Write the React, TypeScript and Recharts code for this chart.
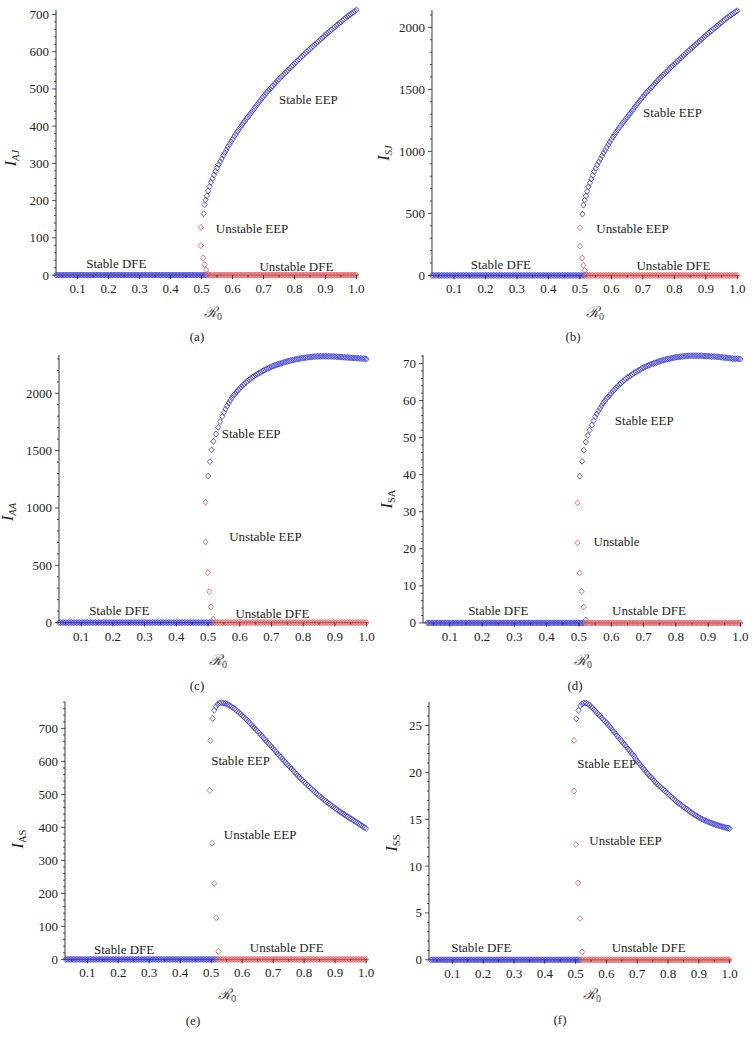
import React from "react";
import { ScatterChart, Scatter, XAxis, YAxis, ReferenceDot } from "recharts";

// R0 samples of the disease-free branch (same in all six panels)
const dfeStableR0 = [
  0.03, 0.035, 0.04, 0.045, 0.05, 0.055, 0.06, 0.065, 0.07, 0.075, 0.08, 0.085, 0.09, 0.095, 0.1, 0.105,
  0.11, 0.115, 0.12, 0.125, 0.13, 0.135, 0.14, 0.145, 0.15, 0.155, 0.16, 0.165, 0.17, 0.175, 0.18, 0.185,
  0.19, 0.195, 0.2, 0.205, 0.21, 0.215, 0.22, 0.225, 0.23, 0.235, 0.24, 0.245, 0.25, 0.255, 0.26, 0.265,
  0.27, 0.275, 0.28, 0.285, 0.29, 0.295, 0.3, 0.305, 0.31, 0.315, 0.32, 0.325, 0.33, 0.335, 0.34, 0.345,
  0.35, 0.355, 0.36, 0.365, 0.37, 0.375, 0.38, 0.385, 0.39, 0.395, 0.4, 0.405, 0.41, 0.415, 0.42, 0.425,
  0.43, 0.435, 0.44, 0.445, 0.45, 0.455, 0.46, 0.465, 0.47, 0.475, 0.48, 0.485, 0.49, 0.495, 0.5, 0.505,
  0.51, 0.515,
];
const dfeUnstableR0 = [
  0.52, 0.525, 0.53, 0.535, 0.54, 0.545, 0.55, 0.555, 0.56, 0.565, 0.57, 0.575, 0.58, 0.585, 0.59, 0.595,
  0.6, 0.605, 0.61, 0.615, 0.62, 0.625, 0.63, 0.635, 0.64, 0.645, 0.65, 0.655, 0.66, 0.665, 0.67, 0.675,
  0.68, 0.685, 0.69, 0.695, 0.7, 0.705, 0.71, 0.715, 0.72, 0.725, 0.73, 0.735, 0.74, 0.745, 0.75, 0.755,
  0.76, 0.765, 0.77, 0.775, 0.78, 0.785, 0.79, 0.795, 0.8, 0.805, 0.81, 0.815, 0.82, 0.825, 0.83, 0.835,
  0.84, 0.845, 0.85, 0.855, 0.86, 0.865, 0.87, 0.875, 0.88, 0.885, 0.89, 0.895, 0.9, 0.905, 0.91, 0.915,
  0.92, 0.925, 0.93, 0.935, 0.94, 0.945, 0.95, 0.955, 0.96, 0.965, 0.97, 0.975, 0.98, 0.985, 0.99, 0.995,
  1.0,
];
const dfeLevel = 0;

// R0 samples of the flatter part of the stable endemic branch
const eepTailR0 = [
  0.55, 0.555, 0.56, 0.565, 0.57, 0.575, 0.58, 0.585, 0.59, 0.595,
  0.6, 0.605, 0.61, 0.615, 0.62, 0.625, 0.63, 0.635, 0.64, 0.645,
  0.65, 0.655, 0.66, 0.665, 0.67, 0.675, 0.68, 0.685, 0.69, 0.695,
  0.7, 0.705, 0.71, 0.715, 0.72, 0.725, 0.73, 0.735, 0.74, 0.745,
  0.75, 0.755, 0.76, 0.765, 0.77, 0.775, 0.78, 0.785, 0.79, 0.795,
  0.8, 0.805, 0.81, 0.815, 0.82, 0.825, 0.83, 0.835, 0.84, 0.845,
  0.85, 0.855, 0.86, 0.865, 0.87, 0.875, 0.88, 0.885, 0.89, 0.895,
  0.9, 0.905, 0.91, 0.915, 0.92, 0.925, 0.93, 0.935, 0.94, 0.945,
  0.95, 0.955, 0.96, 0.965, 0.97, 0.975, 0.98, 0.985, 0.99, 0.995,
  1.0,
];

// (a) I_AJ
const iajHeadR0 = [0.507, 0.51, 0.513, 0.517, 0.521, 0.526, 0.53, 0.535, 0.54, 0.545];
const iajHead = [165, 189, 202, 213, 226, 238, 249, 259, 269, 279];
const iajTail = [
  288, 297, 305, 313, 321, 329, 336, 344, 351, 358,
  365, 372, 378, 385, 391, 397, 403, 409, 414, 420,
  425, 431, 436, 442, 447, 453, 458, 464, 469, 475,
  480, 485, 490, 495, 499, 504, 508, 513, 517, 522,
  526, 531, 535, 539, 543, 547, 551, 556, 560, 564,
  568, 572, 576, 580, 584, 588, 592, 596, 600, 604,
  607, 611, 615, 619, 622, 626, 630, 634, 637, 641,
  645, 649, 652, 656, 659, 663, 666, 670, 673, 677,
  680, 684, 687, 691, 694, 697, 700, 703, 706, 709,
  712,
];
const iajUnstR0 = [0.498, 0.498, 0.505, 0.51, 0.515, 0.52];
const iajUnst = [128, 79, 46, 28, 14, 3];

// (b) I_SJ
const isjHeadR0 = [0.508, 0.511, 0.515, 0.519, 0.523, 0.527, 0.532, 0.536, 0.541, 0.545];
const isjHead = [494, 567, 607, 640, 678, 714, 747, 777, 807, 837];
const isjTail = [
  864, 891, 915, 939, 963, 987, 1008, 1032, 1053, 1074,
  1095, 1116, 1134, 1155, 1173, 1191, 1209, 1227, 1242, 1260,
  1275, 1293, 1308, 1326, 1341, 1359, 1374, 1392, 1407, 1425,
  1440, 1455, 1470, 1485, 1497, 1512, 1524, 1539, 1551, 1566,
  1578, 1593, 1605, 1617, 1629, 1641, 1653, 1668, 1680, 1692,
  1704, 1716, 1728, 1740, 1752, 1764, 1776, 1788, 1800, 1812,
  1821, 1833, 1845, 1857, 1866, 1878, 1890, 1902, 1911, 1923,
  1935, 1947, 1956, 1968, 1977, 1989, 1998, 2010, 2019, 2031,
  2040, 2052, 2061, 2073, 2082, 2091, 2100, 2109, 2118, 2127,
  2134,
];
const isjUnstR0 = [0.5, 0.5, 0.507, 0.511, 0.515, 0.52];
const isjUnst = [384, 236, 140, 82, 40, 9];

// (c) I_AA
const iaaHeadR0 = [0.5006, 0.506, 0.511, 0.517, 0.525, 0.532, 0.538, 0.545];
const iaaHead = [1279, 1404, 1506, 1581, 1645, 1703, 1753, 1797];
const iaaTail = [
  1833, 1862, 1889, 1914, 1938, 1960, 1980, 1996, 2012, 2027,
  2042, 2056, 2070, 2083, 2096, 2108, 2119, 2130, 2140, 2149,
  2158, 2167, 2175, 2183, 2191, 2199, 2206, 2213, 2219, 2225,
  2231, 2237, 2242, 2247, 2252, 2257, 2261, 2266, 2270, 2274,
  2278, 2282, 2285, 2289, 2292, 2295, 2298, 2301, 2303, 2306,
  2308, 2310, 2312, 2314, 2316, 2318, 2319, 2320, 2321, 2322,
  2322, 2323, 2323, 2323, 2323, 2323, 2322, 2322, 2321, 2321,
  2320, 2319, 2318, 2317, 2316, 2315, 2314, 2313, 2312, 2311,
  2310, 2309, 2308, 2307, 2306, 2305, 2304, 2303, 2302, 2301,
  2299,
];
const iaaUnstR0 = [0.492, 0.492, 0.499, 0.504, 0.509, 0.516];
const iaaUnst = [1049, 703, 435, 270, 136, 29];

// (d) I_SA
const isaHeadR0 = [0.5026, 0.5096, 0.515, 0.521, 0.527, 0.533, 0.54, 0.546];
const isaHead = [39.6, 43.6, 46.6, 48.8, 50.6, 52.0, 53.4, 54.6];
const isaTail = [
  55.6, 56.4, 57.2, 57.9, 58.6, 59.3, 59.9, 60.5, 61.0, 61.5,
  62.0, 62.5, 63.0, 63.5, 63.9, 64.3, 64.7, 65.1, 65.5, 65.9,
  66.2, 66.5, 66.8, 67.1, 67.4, 67.7, 67.9, 68.2, 68.4, 68.7,
  68.9, 69.1, 69.3, 69.5, 69.7, 69.9, 70.0, 70.2, 70.3, 70.5,
  70.6, 70.8, 70.9, 71.0, 71.1, 71.2, 71.3, 71.4, 71.5, 71.6,
  71.7, 71.75, 71.8, 71.85, 71.9, 71.95, 72.0, 72.05, 72.1, 72.1,
  72.1, 72.1, 72.1, 72.1, 72.1, 72.1, 72.1, 72.05, 72.0, 72.0,
  72.0, 71.95, 71.9, 71.9, 71.9, 71.85, 71.8, 71.75, 71.7, 71.65,
  71.6, 71.55, 71.5, 71.45, 71.4, 71.35, 71.3, 71.3, 71.3, 71.25,
  71.2,
];
const isaUnstR0 = [0.495, 0.495, 0.502, 0.508, 0.515, 0.521];
const isaUnst = [32.4, 21.6, 13.5, 8.5, 4.3, 0.8];

// (e) I_AS
const iasHeadR0 = [0.5048, 0.51, 0.5155, 0.521, 0.527, 0.533, 0.539, 0.545];
const iasHead = [730, 755, 766, 773, 777, 778, 777, 776];
const iasTail = [
  774, 772, 769, 766, 763, 760, 756, 752, 748, 744,
  739, 735, 730, 726, 721, 716, 711, 706, 701, 696,
  691, 686, 681, 676, 670, 665, 660, 655, 649, 644,
  639, 634, 628, 623, 618, 613, 607, 602, 597, 592,
  587, 582, 577, 572, 567, 562, 557, 552, 547, 543,
  538, 534, 529, 525, 520, 516, 511, 507, 503, 499,
  495, 491, 487, 483, 479, 476, 472, 469, 465, 462,
  458, 455, 451, 448, 445, 442, 439, 436, 433, 430,
  427, 424, 421, 418, 415, 412, 409, 406, 403, 400,
  397,
];
const iasUnstR0 = [0.497, 0.495, 0.503, 0.51, 0.516, 0.523];
const iasUnst = [663, 512, 352, 230, 126, 24];

// (f) I_SS
const issHeadR0 = [0.502, 0.509, 0.515, 0.521, 0.527, 0.533, 0.539, 0.545];
const issHead = [25.7, 26.6, 27.1, 27.3, 27.4, 27.4, 27.3, 27.2];
const issTail = [
  27.0, 26.85, 26.7, 26.5, 26.3, 26.15, 26.0, 25.8, 25.6, 25.45,
  25.3, 25.1, 24.9, 24.7, 24.5, 24.3, 24.1, 23.9, 23.7, 23.5,
  23.3, 23.1, 22.9, 22.7, 22.5, 22.3, 22.1, 21.9, 21.7, 21.45,
  21.2, 21.0, 20.8, 20.6, 20.4, 20.2, 20.0, 19.8, 19.6, 19.45,
  19.3, 19.1, 18.9, 18.75, 18.6, 18.45, 18.3, 18.15, 18.0, 17.85,
  17.7, 17.55, 17.4, 17.25, 17.1, 16.95, 16.8, 16.7, 16.6, 16.45,
  16.3, 16.2, 16.1, 15.97, 15.85, 15.72, 15.6, 15.5, 15.4, 15.3,
  15.2, 15.11, 15.02, 14.94, 14.86, 14.79, 14.72, 14.65, 14.59, 14.53,
  14.47, 14.41, 14.36, 14.31, 14.26, 14.21, 14.17, 14.12, 14.08, 14.04,
  14.0,
];
const issUnstR0 = [0.495, 0.495, 0.501, 0.508, 0.514, 0.521];
const issUnst = [23.4, 18.0, 12.3, 8.2, 4.4, 0.85];

// axis ticks
const xMajor = [0.1, 0.2, 0.3, 0.4, 0.5, 0.6, 0.7, 0.8, 0.9, 1.0];
const xMinor = [0.05, 0.15, 0.25, 0.35, 0.45, 0.55, 0.65, 0.75, 0.85, 0.95];
const yMajorA = [0, 100, 200, 300, 400, 500, 600, 700];
const yMajorB = [0, 500, 1000, 1500, 2000];
const yMajorD = [0, 10, 20, 30, 40, 50, 60, 70];
const yMajorF = [0, 5, 10, 15, 20, 25];

const SERIF = '"Liberation Serif", "DejaVu Serif", "Times New Roman", serif';
const BLUE = "#4343d6";
const RED = "#e06262";
const INK = "#231f20";

const YW = 50;
const MT = 4;
const MR = 8;
const XH = 30;
const X_END = 1.005;

const xTicks = [...xMajor, ...xMinor].sort((a, b) => a - b);

function minorTicks(max: number, step: number) {
  const out: number[] = [];
  for (let i = 0; i * step <= max + 1e-9; i++) out.push(Math.round(i * step * 1000) / 1000);
  return out;
}

const pairs = (xs: number[], ys: number[]) => xs.map((x, i) => ({ x, y: ys[i] }));

const diamond = (color: string) => (props: any) => {
  const { cx, cy } = props;
  if (cx == null || cy == null) return <g />;
  const w = 2.6;
  const h = 3;
  return (
    <path
      d={`M${cx},${cy - h}L${cx + w},${cy}L${cx},${cy + h}L${cx - w},${cy}Z`}
      fill="none"
      stroke={color}
      strokeWidth={0.85}
    />
  );
};
const blueDiamond = diamond(BLUE);
const redDiamond = diamond(RED);

const panels = [
  {
    id: "a", sym: "AJ", subItalic: true,
    headR0: iajHeadR0, head: iajHead, tail: iajTail, unstR0: iajUnstR0, unst: iajUnst,
    yMax: 712, yMajor: yMajorA, yStep: 20, xMin: 0.03,
    box: { left: 56.3, top: 10.2, width: 302.0, height: 265.1 },
    notes: [
      { text: "Stable EEP", x: 0.845, y: 471 },
      { text: "Unstable EEP", x: 0.663, y: 126 },
      { text: "Stable DFE", x: 0.225, y: 32 },
      { text: "Unstable DFE", x: 0.806, y: 23 },
    ],
    title: { x: 15.5, y: 158 }, r0: { x: 213, y: 312 }, tag: { x: 197, y: 336, t: "(a)" },
  },
  {
    id: "b", sym: "SJ", subItalic: true,
    headR0: isjHeadR0, head: isjHead, tail: isjTail, unstR0: isjUnstR0, unst: isjUnst,
    yMax: 2140, yMajor: yMajorB, yStep: 100, xMin: 0.03,
    box: { left: 432.0, top: 9.9, width: 306.9, height: 265.4 },
    notes: [
      { text: "Stable EEP", x: 0.794, y: 1311 },
      { text: "Unstable EEP", x: 0.667, y: 379 },
      { text: "Stable DFE", x: 0.249, y: 89 },
      { text: "Unstable DFE", x: 0.797, y: 83 },
    ],
    title: { x: 389, y: 153 }, r0: { x: 595, y: 312 }, tag: { x: 573, y: 336, t: "(b)" },
  },
  {
    id: "c", sym: "AA", subItalic: true,
    headR0: iaaHeadR0, head: iaaHead, tail: iaaTail, unstR0: iaaUnstR0, unst: iaaUnst,
    yMax: 2334, yMajor: yMajorB, yStep: 100, xMin: 0.03,
    box: { left: 59.1, top: 355.1, width: 309.2, height: 267.6 },
    notes: [
      { text: "Stable EEP", x: 0.636, y: 1646 },
      { text: "Unstable EEP", x: 0.681, y: 750 },
      { text: "Stable DFE", x: 0.22, y: 105 },
      { text: "Unstable DFE", x: 0.703, y: 82 },
    ],
    title: { x: 13, y: 512 }, r0: { x: 218, y: 660 }, tag: { x: 197, y: 685, t: "(c)" },
  },
  {
    id: "d", sym: "SA", subItalic: false,
    headR0: isaHeadR0, head: isaHead, tail: isaTail, unstR0: isaUnstR0, unst: isaUnst,
    yMax: 72.3, yMajor: yMajorD, yStep: 2, xMin: 0.017,
    box: { left: 423.2, top: 354.8, width: 319.1, height: 267.9 },
    notes: [
      { text: "Stable EEP", x: 0.702, y: 54.7 },
      { text: "Unstable", x: 0.616, y: 21.9 },
      { text: "Stable DFE", x: 0.25, y: 3.4 },
      { text: "Unstable DFE", x: 0.717, y: 3.4 },
    ],
    title: { x: 391.5, y: 499 }, r0: { x: 583, y: 660 }, tag: { x: 575, y: 685, t: "(d)" },
  },
  {
    id: "e", sym: "AS", subItalic: false,
    headR0: iasHeadR0, head: iasHead, tail: iasTail, unstR0: iasUnstR0, unst: iasUnst,
    yMax: 780, yMajor: yMajorA, yStep: 20, xMin: 0.028,
    box: { left: 65.0, top: 701.9, width: 302.6, height: 257.4 },
    notes: [
      { text: "Stable EEP", x: 0.595, y: 604 },
      { text: "Unstable EEP", x: 0.658, y: 377 },
      { text: "Stable DFE", x: 0.219, y: 30 },
      { text: "Unstable DFE", x: 0.744, y: 36 },
    ],
    title: { x: 23, y: 839 }, r0: { x: 227, y: 994 }, tag: { x: 193, y: 1020, t: "(e)" },
  },
  {
    id: "f", sym: "SS", subItalic: false,
    headR0: issHeadR0, head: issHead, tail: issTail, unstR0: issUnstR0, unst: issUnst,
    yMax: 27.5, yMajor: yMajorF, yStep: 1, xMin: 0.024,
    box: { left: 429.3, top: 701.5, width: 302.2, height: 257.8 },
    notes: [
      { text: "Stable EEP", x: 0.601, y: 20.9 },
      { text: "Unstable EEP", x: 0.662, y: 12.7 },
      { text: "Stable DFE", x: 0.194, y: 1.35 },
      { text: "Unstable DFE", x: 0.737, y: 1.28 },
    ],
    title: { x: 397, y: 843 }, r0: { x: 592, y: 994 }, tag: { x: 560, y: 1019, t: "(f)" },
  },
];

function renderXTick(props: any) {
  const { x, y, payload } = props;
  const v = payload.value;
  const major = xMajor.includes(v);
  return (
    <g>
      <line x1={x} x2={x} y1={y} y2={y + (major ? 4 : 2)} stroke={INK} strokeWidth={0.8} />
      {major && (
        <text x={x} y={y + 18} textAnchor="middle" fontSize={13} fill={INK} style={{ fontFamily: SERIF }}>
          {v.toFixed(1)}
        </text>
      )}
    </g>
  );
}

function makeYTick(majors: number[]) {
  return (props: any) => {
    const { x, y, payload } = props;
    const v = payload.value;
    const major = majors.includes(v);
    return (
      <g>
        <line x1={x - (major ? 4 : 2)} x2={x} y1={y} y2={y} stroke={INK} strokeWidth={0.8} />
        {major && (
          <text x={x - 7} y={y + 4.5} textAnchor="end" fontSize={13} fill={INK} style={{ fontFamily: SERIF }}>
            {v}
          </text>
        )}
      </g>
    );
  };
}

function noteLabel(text: string) {
  return (lp: any) => {
    const vb = lp.viewBox || {};
    const cx = (vb.x ?? 0) + (vb.width ?? 0) / 2;
    const cy = (vb.y ?? 0) + (vb.height ?? 0) / 2;
    return (
      <text x={cx} y={cy + 4.5} textAnchor="middle" fontSize={13} fill={INK} style={{ fontFamily: SERIF }}>
        {text}
      </text>
    );
  };
}

function Panel({ p }: { p: (typeof panels)[number] }) {
  const W = p.box.width + YW + MR;
  const H = p.box.height + MT + XH;
  const stableDfe = dfeStableR0.map((x) => ({ x, y: dfeLevel }));
  const unstableDfe = dfeUnstableR0.map((x) => ({ x, y: dfeLevel }));
  const stableEep = [...pairs(p.headR0, p.head), ...pairs(eepTailR0, p.tail)];
  const unstableEep = pairs(p.unstR0, p.unst);
  return (
    <div style={{ position: "absolute", left: p.box.left - YW, top: p.box.top - MT }}>
      <ScatterChart width={W} height={H} margin={{ top: MT, right: MR, bottom: 0, left: 0 }}>
        <XAxis
          type="number"
          dataKey="x"
          domain={[p.xMin, X_END]}
          ticks={xTicks}
          interval={0}
          tickLine={false}
          tickSize={0}
          tickMargin={0}
          axisLine={{ stroke: INK, strokeWidth: 0.9 }}
          tick={renderXTick}
          height={XH}
        />
        <YAxis
          type="number"
          dataKey="y"
          domain={[0, p.yMax]}
          ticks={minorTicks(p.yMax, p.yStep)}
          interval={0}
          tickLine={false}
          tickSize={0}
          tickMargin={0}
          axisLine={{ stroke: INK, strokeWidth: 0.9 }}
          tick={makeYTick(p.yMajor)}
          width={YW}
        />
        <Scatter data={stableDfe} shape={blueDiamond} isAnimationActive={false} />
        <Scatter data={unstableDfe} shape={redDiamond} isAnimationActive={false} />
        <Scatter data={unstableEep} shape={redDiamond} isAnimationActive={false} />
        <Scatter data={stableEep} shape={blueDiamond} isAnimationActive={false} />
        {p.notes.map((n) => (
          <ReferenceDot
            key={n.text}
            x={n.x}
            y={n.y}
            r={0}
            fill="none"
            stroke="none"
            label={{ position: "center", content: noteLabel(n.text) }}
          />
        ))}
      </ScatterChart>
    </div>
  );
}

export default function App() {
  return (
    <div
      style={{
        position: "absolute",
        left: 0,
        top: 0,
        width: 755,
        height: 1045,
        background: "#fff",
        fontFamily: SERIF,
      }}
    >
      {panels.map((p) => (
        <Panel key={p.id} p={p} />
      ))}
      <svg width={755} height={1045} style={{ position: "absolute", left: 0, top: 0, pointerEvents: "none" }}>
        {panels.map((p) => (
          <g key={p.id} fill={INK} style={{ fontFamily: SERIF }}>
            <text transform={`translate(${p.title.x} ${p.title.y}) rotate(-90)`} textAnchor="middle">
              <tspan fontStyle="italic" fontSize={16}>I</tspan>
              <tspan fontSize={10.5} dy={3} fontStyle={p.subItalic ? "italic" : "normal"}>
                {p.sym}
              </tspan>
            </text>
            <text x={p.r0.x} y={p.r0.y + 5} textAnchor="middle" fill="#444">
              <tspan fontStyle="italic" fontSize={15}>ℛ</tspan>
              <tspan fontSize={10} dy={3}>0</tspan>
            </text>
            <text x={p.tag.x} y={p.tag.y + 4.5} textAnchor="middle" fontSize={13}>
              {p.tag.t}
            </text>
          </g>
        ))}
      </svg>
    </div>
  );
}
